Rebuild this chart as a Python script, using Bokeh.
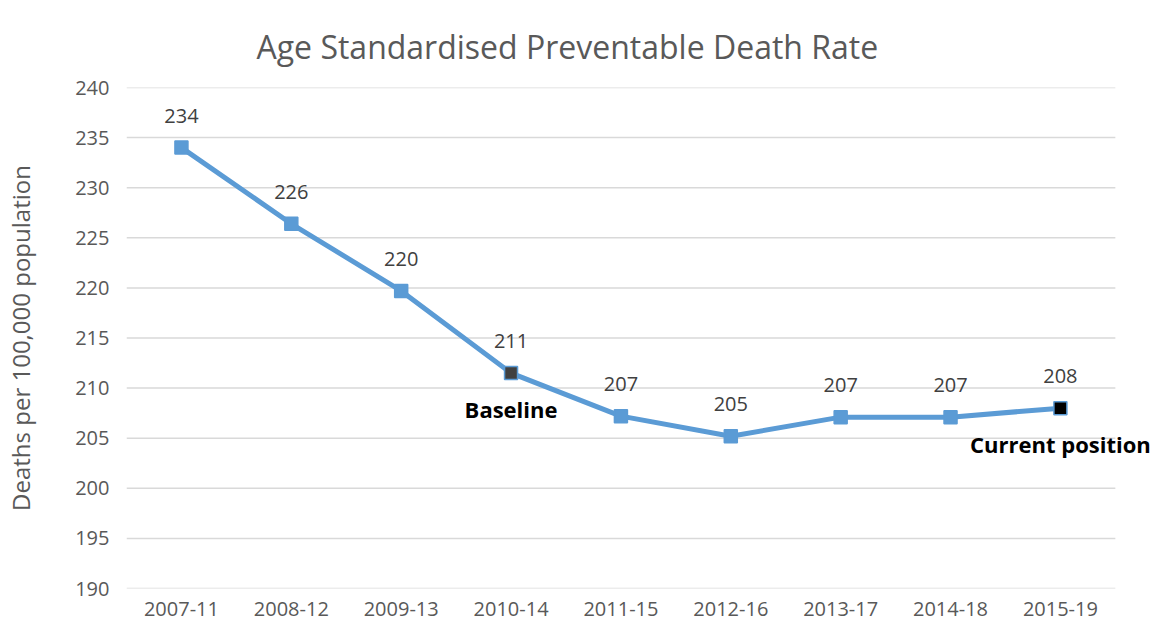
from bokeh.plotting import figure
from bokeh.models import ColumnDataSource, FixedTicker, Range1d, LinearAxis
from bokeh.core.properties import value
from bokeh.embed import file_html
from bokeh.resources import INLINE

periods = ["2007-11", "2008-12", "2009-13", "2010-14", "2011-15",
           "2012-16", "2013-17", "2014-18", "2015-19"]
rates = [234.0, 226.4, 219.7, 211.5, 207.2, 205.2, 207.1, 207.1, 208.0]
rate_labels = ["234", "226", "220", "211", "207", "205", "207", "207", "208"]
marker_fill = ["#5B9BD5", "#5B9BD5", "#5B9BD5", "#404040", "#5B9BD5",
               "#5B9BD5", "#5B9BD5", "#5B9BD5", "#000000"]
notes = ["", "", "", "Baseline", "", "", "", "", "Current position"]
y_ticks = [190, 195, 200, 205, 210, 215, 220, 225, 230, 235, 240]
title_text = "Age Standardised Preventable Death Rate"
y_title = "Deaths per 100,000 population"

FONT = "Open Sans"
n = len(periods)
xs = list(range(n))

src = ColumnDataSource(dict(x=xs, y=rates, lab=rate_labels,
                            fill=marker_fill, note=notes))

# extra room right of the category bands so "Current position" is not clipped
p = figure(x_range=Range1d(-0.5, n - 0.5 + 0.32), y_range=Range1d(190, 240),
           width=1150, height=628, output_backend="svg",
           toolbar_location=None, title=title_text,
           min_border_left=125, min_border_right=0,
           min_border_top=87, min_border_bottom=40)
p.outline_line_color = None
p.background_fill_color = "white"

p.title.text_font = FONT
p.title.text_font_size = "32px"
p.title.text_font_style = "normal"
p.title.text_color = "#595959"
p.title.align = "left"
p.title.offset = 130
p.title.standoff = 40

# horizontal gridlines across the category bands only
p.segment(x0=-0.5, x1=n - 0.5, y0=y_ticks, y1=y_ticks,
          line_color="#D9D9D9", line_width=1.5)
p.xgrid.grid_line_color = None
p.ygrid.grid_line_color = None

p.line("x", "y", source=src, line_color="#5B9BD5", line_width=5)
p.scatter("x", "y", source=src, marker="square", size=13,
          fill_color="fill", line_color="#5B9BD5", line_width=1.5)

p.text("x", "y", text="lab", source=src, y_offset=-25,
       text_align="center", text_baseline="bottom",
       text_font=value(FONT), text_font_size="20px", text_color="#404040")
p.text("x", "y", text="note", source=src, y_offset=21,
       text_align="center", text_baseline="top",
       text_font=value(FONT), text_font_size="22px",
       text_font_style="bold", text_color="#000000")

p.xaxis.ticker = FixedTicker(ticks=xs)
p.xaxis.major_label_overrides = {i: s for i, s in enumerate(periods)}
p.yaxis.ticker = FixedTicker(ticks=y_ticks)

for ax in (p.xaxis, p.yaxis):
    ax.axis_line_color = None
    ax.major_tick_line_color = None
    ax.minor_tick_line_color = None
    ax.major_tick_out = 0
    ax.major_tick_in = 0
    ax.major_label_text_font = FONT
    ax.major_label_text_font_size = "20px"
    ax.major_label_text_color = "#595959"

p.yaxis.major_label_standoff = 17
p.xaxis.major_label_standoff = 13

# y-axis title on its own label-only axis
yl = LinearAxis(ticker=FixedTicker(ticks=[]),
                axis_line_color=None, major_tick_line_color=None,
                minor_tick_line_color=None, major_tick_out=0,
                major_tick_in=0, axis_label=y_title,
                axis_label_text_font=FONT,
                axis_label_text_font_size="24px",
                axis_label_text_font_style="normal",
                axis_label_text_color="#595959",
                axis_label_standoff=36)
p.add_layout(yl, "left")

open("out.html", "w").write(file_html(p, INLINE))
